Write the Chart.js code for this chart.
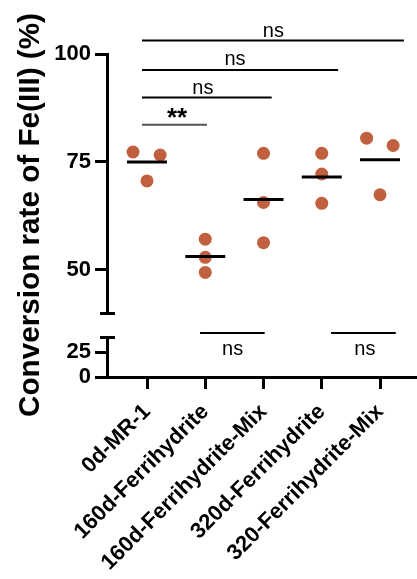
<!DOCTYPE html>
<html><head><meta charset="utf-8">
<script src="https://cdn.jsdelivr.net/npm/chart.js@4/dist/chart.umd.min.js"></script>
<style>html,body{margin:0;padding:0;background:#fff}#wrap{width:417px;height:579px;position:relative}</style>
</head><body><div id="wrap"><canvas id="c"></canvas></div>
<script>
// ---- data ----
const categories = ['0d-MR-1', '160d-Ferrihydrite', '160d-Ferrihydrite-Mix', '320d-Ferrihydrite', '320-Ferrihydrite-Mix'];
const replicate1 = [77.3, 57.1, 77.0, 77.0, 80.5];
const replicate2 = [76.6, 52.9, 65.6, 72.2, 78.8];
const replicate3 = [70.6, 49.4, 56.3, 65.4, 67.4];
const groupMeans = [75.0, 53.1, 66.3, 71.5, 75.5];
const upperTicks = [50, 75, 100];
const lowerTicks = [0, 25];
const yTitle = 'Conversion rate of Fe(III) (%)';
const compLabels = ['**', 'ns', 'ns', 'ns', 'ns', 'ns'];
const compPairs = [[0, 1], [0, 2], [0, 3], [0, 4], [1, 2], [3, 4]];

// ---- layout / style ----
const DOT = '#C0603E';
const jitter = [[-0.24, 0.225, 0], [0, 0, 0], [0, 0, 0], [0, 0, 0], [-0.23, 0.225, 0]];
// bracket geometry: [x1, x2, yValue, axis, textX, textDy]
const bracketGeom = [
  [-0.086, 1.03, 83.6, 'yTop', 0.515, 1],
  [-0.086, 2.14, 89.9, 'yTop', 0.96, -4],
  [-0.086, 3.28, 96.3, 'yTop', 1.51, -5],
  [-0.086, 4.41, 103.1, 'yTop', 2.17, -4],
  [0.91, 2.02, 44, 'yBot', 1.47, 22],
  [3.16, 4.27, 44, 'yBot', 3.74, 22]
];
const FONT = '"Liberation Sans", Arial, sans-serif';
const HALF = 0.343;

const datasets = [];
groupMeans.forEach((m, i) => {
  datasets.push({type: 'line', data: [{x: i - HALF, y: m}, {x: i + HALF, y: m}], yAxisID: 'yTop',
    borderColor: '#000', borderWidth: 3, pointRadius: 0, showLine: true, order: 2});
});
const pts = [];
[replicate1, replicate2, replicate3].forEach((rep, r) => {
  rep.forEach((v, i) => pts.push({x: i + jitter[i][r], y: v}));
});
datasets.push({type: 'scatter', data: pts, yAxisID: 'yTop', backgroundColor: DOT, borderWidth: 0,
  pointRadius: 6.5, pointHoverRadius: 6.5, order: 3});
bracketGeom.forEach((g, k) => {
  datasets.push({type: 'line', data: [{x: g[0], y: g[2]}, {x: g[1], y: g[2]}], yAxisID: g[3],
    borderColor: k === 0 ? '#555' : '#000', borderWidth: 2, pointRadius: 0, showLine: true, clip: false, order: 1});
});

const annot = {
  id: 'annot',
  afterDraw(chart) {
    const ctx = chart.ctx, xs = chart.scales.x, yT = chart.scales.yTop, yB = chart.scales.yBot;
    ctx.save();
    ctx.strokeStyle = '#000'; ctx.lineWidth = 3;
    const L = chart.chartArea.left;
    [[yT, 40], [yB, 40]].forEach(([s, v]) => {
      const py = Math.round(s.getPixelForValue(v)) + 0.5;
      ctx.beginPath(); ctx.moveTo(L - 7, py); ctx.lineTo(L + 8, py); ctx.stroke();
    });
    ctx.fillStyle = '#000'; ctx.textAlign = 'center'; ctx.textBaseline = 'alphabetic';
    bracketGeom.forEach((g, k) => {
      const s = chart.scales[g[3]];
      const px = xs.getPixelForValue(g[4]);
      const py = s.getPixelForValue(g[2]) + g[5];
      ctx.font = compLabels[k] === '**' ? 'bold 26px ' + FONT : '20px ' + FONT;
      ctx.fillText(compLabels[k], px, py);
    });
    ctx.font = 'bold 30px ' + FONT;
    const w = ctx.measureText(yTitle).width;
    const fs = 30 * 404 / w;
    ctx.font = 'bold ' + fs.toFixed(2) + 'px ' + FONT;
    ctx.translate(39, 215);
    ctx.rotate(-Math.PI / 2);
    ctx.fillText(yTitle, 0, 0);
    ctx.restore();
  }
};

const tickFont = {family: FONT, size: 22, weight: 'bold'};
const yCommon = {
  type: 'linear', position: 'left', stack: 'brk',
  grid: {drawOnChartArea: false, drawTicks: true, tickLength: 12, color: '#000', lineWidth: 3},
  border: {display: true, color: '#000', width: 3},
  ticks: {font: tickFont, color: '#000', padding: 4},
  afterFit(s) { s.width = 107; }
};

new Chart(document.getElementById('c'), {
  type: 'scatter',
  data: {datasets},
  plugins: [annot],
  options: {
    responsive: true, maintainAspectRatio: false, animation: false,
    layout: {autoPadding: false, padding: {top: 54, left: 0, right: 0, bottom: 0}},
    plugins: {legend: {display: false}, tooltip: {enabled: false}},
    scales: {
      x: {
        type: 'linear', position: 'bottom', min: -0.687, max: 4.635,
        grid: {drawOnChartArea: false, drawTicks: true, tickLength: 12, color: '#000', lineWidth: 3},
        border: {display: true, color: '#000', width: 3},
        afterBuildTicks(s) { s.ticks = categories.map((c, i) => ({value: i})); },
        ticks: {font: tickFont, color: '#000', minRotation: 45, maxRotation: 45, autoSkip: false, padding: 10,
          callback: (v) => categories[v]},
        afterFit(s) { s.height = 202; s.paddingLeft = 0; s.paddingRight = 0; }
      },
      yTop: Object.assign({}, yCommon, {min: 40, max: 100, stackWeight: 259, weight: 3,
        afterBuildTicks(s) { s.ticks = upperTicks.map(v => ({value: v})); }}),
      yGap: {type: 'linear', position: 'left', stack: 'brk', stackWeight: 24, weight: 2, display: false, min: 0, max: 1},
      yBot: Object.assign({}, yCommon, {min: 0, max: 40, stackWeight: 40, weight: 1,
        afterBuildTicks(s) { s.ticks = lowerTicks.map(v => ({value: v})); }})
    }
  }
});
</script></body></html>
